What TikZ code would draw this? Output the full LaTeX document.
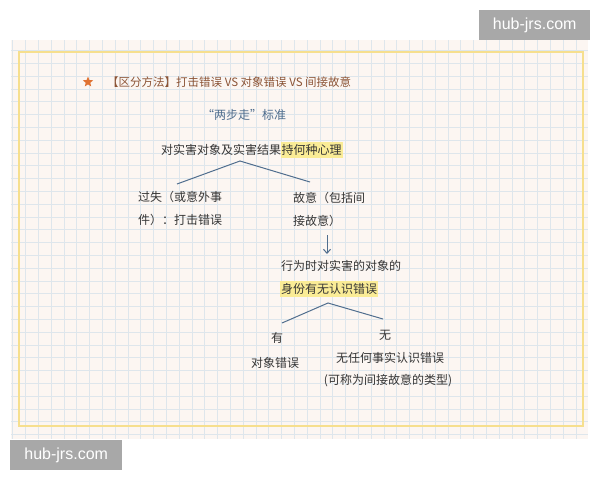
\documentclass[tikz,border=0pt]{standalone}
\usepackage{fontspec}
\setsansfont{Liberation Sans}
\newfontfamily\cjk{Noto Sans CJK SC}
\usetikzlibrary{positioning,arrows.meta,shapes.geometric}
\definecolor{paper}{RGB}{252,246,242}
\definecolor{gridc}{RGB}{222,230,236}
\definecolor{framec}{RGB}{246,223,142}
\definecolor{titlec}{RGB}{140,84,54}
\definecolor{starc}{RGB}{224,114,50}
\definecolor{bluec}{RGB}{80,110,142}
\definecolor{inkc}{RGB}{52,52,52}
\definecolor{hilitec}{RGB}{250,236,150}
\definecolor{wmc}{RGB}{168,168,168}
\tikzset{
  gridline/.style={draw=gridc, line width=0.8pt},
  txt/.style={inner sep=1pt, text=inkc, font=\cjk\fontsize{12}{23}\selectfont, align=left},
  hilite/.style={txt, fill=hilitec, inner xsep=1pt, inner ysep=2.5pt},
  branch/.style={draw=bluec, line width=1pt},
  wmbox/.style={fill=wmc, text=white, font=\sffamily\fontsize{16}{18}\selectfont, inner sep=0pt, minimum height=30pt, anchor=north west}
}
\begin{document}
\begin{tikzpicture}[x=1pt,y=-1pt]
\useasboundingbox (0,0) rectangle (600,480);

\fill[paper] (11,40) rectangle (588,439);
\foreach \gx in {12.7,25.5,...,587} \draw[gridline] (\gx,40) -- (\gx,439);
\foreach \gy in {50.5,63.3,...,439} \draw[gridline] (11,\gy) -- (588,\gy);
\draw[framec, line width=2pt] (19,52) rectangle (583,426);

\node[wmbox, minimum width=111pt] (wmtop) at (479,10) {hub-jrs.com};
\node[wmbox, minimum width=112pt] (wmbot) at (10,440) {hub-jrs.com};

\node[star, star points=5, star point ratio=2.3, fill=starc, minimum size=11pt, inner sep=0pt] (tstar) at (88,82) {};
\node[txt, text=titlec, font=\cjk\fontsize{11.5}{14}\selectfont, anchor=west] (title) at (106,82) {【区分方法】打击错误 VS 对象错误 VS 间接故意};
\node[txt, text=bluec] (std) at (244,115) {“两步走”标准};

\node[txt, anchor=west] (roota) at (160,150) {对实害对象及实害结果};
\node[hilite, right=-2pt of roota] (rootb) {持何种心理};

\node[txt, anchor=west] (negl) at (137,208.5) {过失（或意外事\\件）：打击错误};
\node[txt, anchor=west] (intent) at (292,209) {故意（包括间\\接故意）};

\coordinate (split1) at (240,161);
\coordinate (endl1) at (177,184);
\coordinate (endr1) at (310,182);
\draw[branch] (endl1) -- (split1) -- (endr1);

\coordinate (arrs) at (327,235);
\coordinate (arre) at (327,254);
\draw[branch, -{Straight Barb[length=4pt,width=7pt]}] (arrs) -- (arre);

\node[txt, anchor=west] (acta) at (280,266) {行为时对实害的对象的};
\node[hilite, anchor=west] (actb) at (280,289) {身份有无认识错误};

\coordinate (split2) at (328,303);
\coordinate (endl2) at (282,323);
\coordinate (endr2) at (383,319);
\draw[branch] (endl2) -- (split2) -- (endr2);

\node[txt] (yes) at (277,338) {有};
\node[txt] (objerr) at (275,363) {对象错误};
\node[txt] (no) at (385,335) {无};
\node[txt] (nofact) at (390,358) {无任何事实认识错误};
\node[txt] (indir) at (388,381) {(可称为间接故意的类型)};

\end{tikzpicture}
\end{document}
